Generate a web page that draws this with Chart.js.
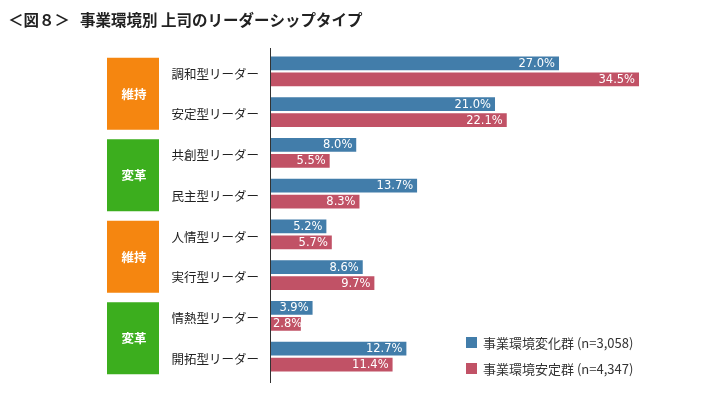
<!DOCTYPE html>
<html><head><meta charset="utf-8">
<script src="https://cdn.jsdelivr.net/npm/chart.js@4"></script>
<style>html,body{margin:0;padding:0;background:#fff}</style>
</head><body>
<canvas id="c" width="720" height="403" style="display:block;width:720px;height:403px"></canvas>
<script>
const categories = ['調和型リーダー','安定型リーダー','共創型リーダー','民主型リーダー','人情型リーダー','実行型リーダー','情熱型リーダー','開拓型リーダー'];
const changingGroup = [27.0, 21.0, 8.0, 13.7, 5.2, 8.6, 3.9, 12.7];
const stableGroup = [34.5, 22.1, 5.5, 8.3, 5.7, 9.7, 2.8, 11.4];
const seriesLabels = ['事業環境変化群 (n=3,058)', '事業環境安定群 (n=4,347)'];
const groupLabels = ['維持', '変革', '維持', '変革'];
const titleHead = '＜図８＞';
const titleBody = '事業環境別 上司のリーダーシップタイプ';

const CJK = '"Noto Sans CJK JP", "Noto Sans", sans-serif';
const NUM = '"DejaVu Sans", sans-serif';
const BLUE = 'rgb(66,125,170)';
const RED = 'rgb(193,82,102)';
const groupColors = ['rgb(245,134,16)', 'rgb(60,174,30)', 'rgb(245,134,16)', 'rgb(60,174,30)'];

const deco = {
  id: 'deco',
  beforeDraw(chart) {
    const ctx = chart.ctx;
    ctx.save();
    ctx.fillStyle = '#fff';
    ctx.fillRect(0, 0, chart.width, chart.height);
    ctx.restore();
  },
  afterDatasetsDraw(chart) {
    const ctx = chart.ctx;
    ctx.save();
    ctx.font = '11.5px ' + NUM;
    ctx.fillStyle = '#fff';
    ctx.textAlign = 'right';
    ctx.textBaseline = 'middle';
    chart.data.datasets.forEach((ds, di) => {
      const meta = chart.getDatasetMeta(di);
      meta.data.forEach((bar, i) => {
        const txt = ds.data[i].toFixed(1) + '%';
        const w = ctx.measureText(txt).width;
        const x = Math.max(bar.x - 4, bar.base + 2 + w);
        ctx.fillText(txt, x, bar.y + 0.5);
      });
    });
    ctx.restore();
  },
  afterDraw(chart) {
    const ctx = chart.ctx;
    const ys = chart.scales.y;
    const area = chart.chartArea;
    ctx.save();
    // axis line
    ctx.strokeStyle = '#333';
    ctx.lineWidth = 1;
    ctx.beginPath();
    ctx.moveTo(Math.round(area.left) - 0.5, area.top - 3);
    ctx.lineTo(Math.round(area.left) - 0.5, area.bottom + 6);
    ctx.stroke();
    // title
    ctx.fillStyle = '#222';
    ctx.font = 'bold 15.5px ' + CJK;
    ctx.textBaseline = 'middle';
    ctx.textAlign = 'left';
    ctx.fillText(titleHead, 8, 20);
    ctx.fillText(titleBody, 80, 20);
    // group badges
    groupLabels.forEach((g, gi) => {
      const c0 = ys.getPixelForValue(gi * 2);
      const c1 = ys.getPixelForValue(gi * 2 + 1);
      const mid = (c0 + c1) / 2 + 2;
      ctx.fillStyle = groupColors[gi];
      ctx.fillRect(107, mid - 36, 52, 72);
      ctx.fillStyle = '#fff';
      ctx.font = 'bold 12.5px ' + CJK;
      ctx.textAlign = 'center';
      ctx.fillText(g, 134, mid);
    });
    // legend
    ctx.textAlign = 'left';
    ctx.font = '13px ' + CJK;
    chart.data.datasets.forEach((ds, di) => {
      const y = 337 + di * 26;
      ctx.fillStyle = ds.backgroundColor;
      ctx.fillRect(466, y, 11, 11);
      ctx.fillStyle = '#333';
      ctx.fillText(ds.label, 483, y + 6);
    });
    ctx.restore();
  }
};

new Chart(document.getElementById('c'), {
  type: 'bar',
  data: {
    labels: categories,
    datasets: [
      { label: seriesLabels[0], data: changingGroup, backgroundColor: BLUE, borderColor: '#fff',
        borderWidth: { top: 1.5, bottom: 1.5, left: 0, right: 0 }, borderSkipped: false, barThickness: 16 },
      { label: seriesLabels[1], data: stableGroup, backgroundColor: RED, borderColor: '#fff',
        borderWidth: { top: 1.5, bottom: 1.5, left: 0, right: 0 }, borderSkipped: false, barThickness: 16 }
    ]
  },
  options: {
    indexAxis: 'y',
    responsive: false,
    animation: false,
    devicePixelRatio: 1,
    layout: { padding: { top: 51, bottom: 26, left: 0, right: 22.3 } },
    plugins: { legend: { display: false }, title: { display: false }, tooltip: { enabled: false } },
    scales: {
      x: { display: false, min: 0, max: 40 },
      y: {
        grid: { display: false, drawTicks: false },
        border: { display: false },
        ticks: { color: '#222', font: { family: CJK, size: 12.5 }, padding: 12, labelOffset: 2.5 },
        afterFit(scale) { scale.width = 271; }
      }
    }
  },
  plugins: [deco]
});
</script>
</body></html>
